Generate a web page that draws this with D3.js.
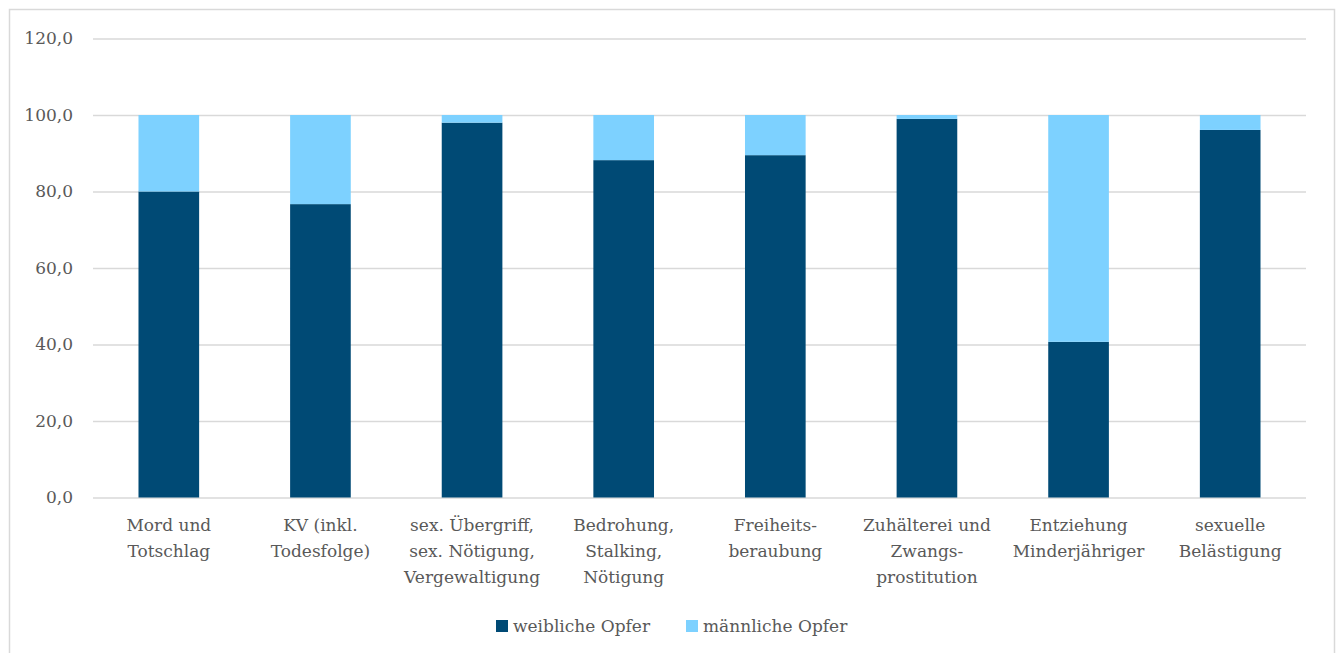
<!DOCTYPE html>
<html>
<head>
<meta charset="utf-8">
<script src="https://cdn.jsdelivr.net/npm/d3@7"></script>
<style>
  body { margin: 0; background: #fff; }
  svg { display: block; font-family: "DejaVu Serif", serif; }
</style>
</head>
<body>
<div id="chart"></div>
<script>
const categories = [
    ["Mord und", "Totschlag"],
    ["KV (inkl.", "Todesfolge)"],
    ["sex. Übergriff,", "sex. Nötigung,", "Vergewaltigung"],
    ["Bedrohung,", "Stalking,", "Nötigung"],
    ["Freiheits-", "beraubung"],
    ["Zuhälterei und", "Zwangs-", "prostitution"],
    ["Entziehung", "Minderjähriger"],
    ["sexuelle", "Belästigung"]
];
const female = [80.0, 76.7, 98.0, 88.2, 89.5, 99.0, 40.7, 96.1];
const male = [20.0, 23.3, 2.0, 11.8, 10.5, 1.0, 59.3, 3.9];
const seriesNames = ["weibliche Opfer", "männliche Opfer"];
const colours = ["#004a75", "#7dd1ff"];
const yTicks = [0, 20, 40, 60, 80, 100, 120];

const W = 1340, H = 653;
const margin = { top: 38.5, bottom: 155.5, left: 93, right: 34 };
const width = W - margin.left - margin.right;
const height = H - margin.top - margin.bottom;
const fontSize = "17px";

const svg = d3.select("#chart")
    .append("svg")
    .attr("width", W)
    .attr("height", H);

// outer frame
svg.append("rect")
    .attr("x", 9.5).attr("y", 9.5)
    .attr("width", 1325).attr("height", 660)
    .attr("fill", "none")
    .attr("stroke", "#d9d9d9")
    .attr("stroke-width", 1.5);

const g = svg.append("g").attr("transform", `translate(${margin.left}, ${margin.top})`);

const idx = d3.range(categories.length);
const x = d3.scaleBand().domain(idx).range([0, width]).paddingInner(0.6).paddingOuter(0.3);
const y = d3.scaleLinear().domain([0, 120]).range([height, 0]);

// gridlines + y labels
g.append("g")
    .call(d3.axisLeft(y).tickValues(yTicks).tickSize(-width).tickPadding(20)
        .tickFormat(d => d3.format(".1f")(d).replace(".", ",")))
    .call(a => a.select(".domain").remove())
    .call(a => a.selectAll("line").attr("stroke", "#d9d9d9").attr("stroke-width", 1.5))
    .call(a => a.selectAll("text").attr("fill", "#595959").style("font-size", fontSize).style("font-family", "DejaVu Serif"));

const stacked = d3.stack().keys([0, 1])(idx.map(i => [female[i], male[i]]));

g.append("g")
    .selectAll("g")
    .data(stacked)
    .join("g")
    .attr("fill", (d, i) => colours[i])
    .selectAll("rect")
    .data(d => d)
    .join("rect")
    .attr("x", (d, i) => x(i))
    .attr("width", x.bandwidth())
    .attr("y", d => y(d[1]))
    .attr("height", d => y(d[0]) - y(d[1]));

// x labels
const xl = g.append("g").attr("transform", `translate(0, ${height})`);
xl.selectAll("text")
    .data(categories)
    .join("text")
    .attr("x", (d, i) => x(i) + x.bandwidth() / 2)
    .attr("y", 33)
    .attr("text-anchor", "middle")
    .attr("fill", "#595959")
    .style("font-size", fontSize)
    .selectAll("tspan")
    .data(d => d)
    .join("tspan")
    .attr("x", function () { return d3.select(this.parentNode).attr("x"); })
    .attr("dy", (d, i) => i === 0 ? 0 : 26)
    .text(d => d);

// legend
const legend = svg.append("g").attr("transform", "translate(496, 620)");
const legendX = [0, 190];
seriesNames.forEach((name, i) => {
    legend.append("rect")
        .attr("x", legendX[i]).attr("y", 0)
        .attr("width", 12).attr("height", 12)
        .attr("fill", colours[i]);
    legend.append("text")
        .attr("x", legendX[i] + 17).attr("y", 12)
        .attr("fill", "#595959")
        .style("font-size", fontSize)
        .text(name);
});
</script>
</body>
</html>
